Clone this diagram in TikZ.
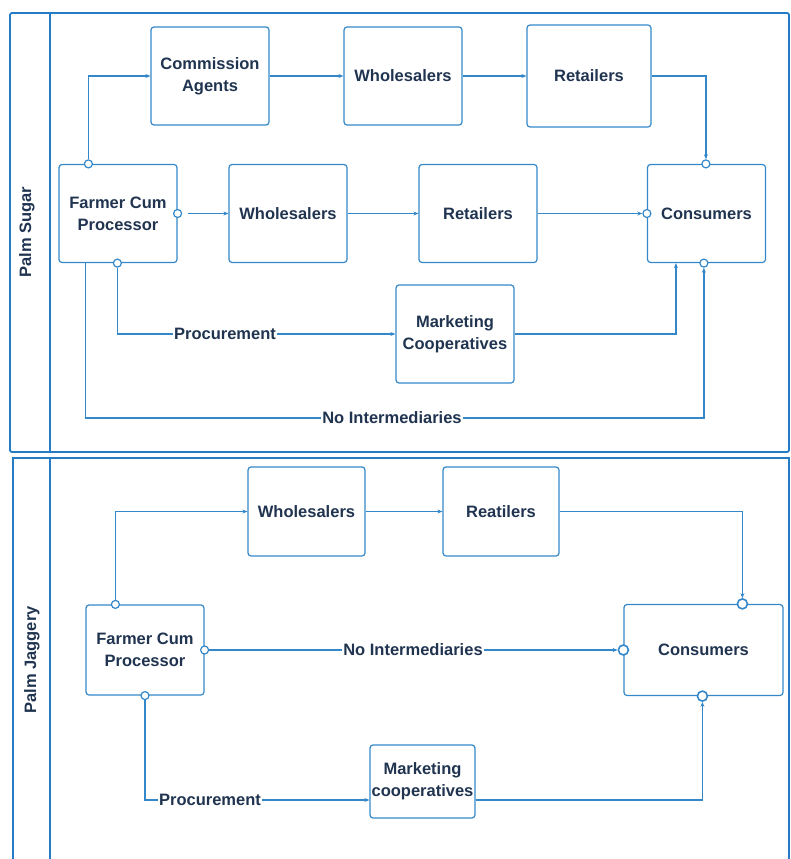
\documentclass[tikz,border=0pt]{standalone}
\usepackage{fontspec}
\setmainfont{Liberation Sans}
\usetikzlibrary{arrows.meta,positioning,calc}
\definecolor{lineblue}{RGB}{52,136,202}
\definecolor{frameblue}{RGB}{38,124,196}
\definecolor{textnavy}{RGB}{32,52,80}

\begin{document}
\begin{tikzpicture}[x=1pt, y=-1pt,
    font=\bfseries\fontsize{16.5}{22}\selectfont, text=textnavy,
    box/.style={draw=lineblue, line width=1.2pt, rounded corners=3pt, align=center,
      minimum width=118pt, minimum height=98pt, inner sep=2pt},
    flow/.style={draw=lineblue, line width=1.2pt, -{Stealth[length=5pt,width=4pt]}},
    link/.style={draw=lineblue, line width=1.2pt},
    port/.style={circle, draw=lineblue, line width=1.2pt, fill=white, inner sep=0pt, minimum size=8pt},
    bigport/.style={port, line width=1.6pt, minimum size=10pt},
    tag/.style={fill=white, inner sep=1pt},
    lane/.style={rotate=90},
    frame/.style={draw=frameblue, line width=1.8pt}]
    \useasboundingbox (0,0) rectangle (790,859);

    % Swimlane frames
    \draw[frame, rounded corners=2pt] (10,13) rectangle (789,452);
    \draw[frame] (50,13) -- (50,452);
    \draw[frame] (13,860) -- (13,458) -- (789,458) -- (789,860);
    \draw[frame] (50,458) -- (50,860);
    \node[lane] (sugar) at (27,232) {Palm Sugar};
    \node[lane] (jaggery) at (32,660) {Palm Jaggery};

    % Palm sugar boxes
    \node[box] (agents) at (210,76) {Commission\\Agents};
    \node[box] (whole1) at (403,76) {Wholesalers};
    \node[box, minimum width=124pt, minimum height=102pt] (retail1) at (589,76) {Retailers};
    \node[box] (farmer1) at (118,213.5) {Farmer Cum\\Processor};
    \node[box] (whole2) at (288,213.5) {Wholesalers};
    \node[box] (retail2) at (478,213.5) {Retailers};
    \node[box] (cons1) at (706.5,213.5) {Consumers};
    \node[box] (coop1) at (455,334) {Marketing\\Cooperatives};

    % Palm sugar ports and labels
    \node[port] (f1top) at ($(farmer1.north west)+(30,0)$) {};
    \node[port] (f1east) at (farmer1.east) {};
    \node[port] (f1bot) at ($(farmer1.south west)+(59,0)$) {};
    \coordinate (f1out) at ($(farmer1.south west)+(27,0)$);
    \node[port] (c1top) at ($(cons1.north west)+(59,0)$) {};
    \node[port] (c1west) at (cons1.west) {};
    \node[port] (c1bot) at ($(cons1.south west)+(57,0)$) {};
    \coordinate (c1low) at ($(cons1.south west)+(29,0)$);
    \node[tag] (proc1) at (225,334) {Procurement};
    \node[tag] (none1) at (392,418) {No Intermediaries};

    % Palm sugar connectors
    \draw[flow] (f1top) |- (agents);
    \draw[flow] (agents) -- (whole1);
    \draw[flow] (whole1) -- (retail1);
    \draw[flow] (retail1) -| (c1top);
    \draw[flow, shorten <=6pt] (f1east) -- (whole2);
    \draw[flow] (whole2) -- (retail2);
    \draw[flow] (retail2) -- (c1west);
    \draw[link] (f1bot) |- (proc1);
    \draw[flow] (proc1) -- (coop1);
    \draw[flow] (coop1) -| (c1low);
    \draw[link] (f1out) |- (none1);
    \draw[flow] (none1) -| (c1bot);

    % Palm jaggery boxes
    \node[box, minimum width=117pt, minimum height=89pt] (whole3) at (306.5,511.5) {Wholesalers};
    \node[box, minimum width=116pt, minimum height=89pt] (retail3) at (501,511.5) {Reatilers};
    \node[box, minimum height=90pt] (farmer2) at (145,650) {Farmer Cum\\Processor};
    \node[box, minimum width=159pt, minimum height=91pt] (cons2) at (703.5,650) {Consumers};
    \node[box, minimum width=105pt, minimum height=73pt, inner sep=1pt] (coop2) at (422.5,781.5) {Marketing\\cooperatives};

    % Palm jaggery ports and labels
    \node[port] (f2top) at ($(farmer2.north west)+(30,0)$) {};
    \node[port] (f2east) at (farmer2.east) {};
    \node[port] (f2bot) at (farmer2.south) {};
    \node[bigport] (c2top) at ($(cons2.north west)+(119,0)$) {};
    \node[bigport] (c2west) at (cons2.west) {};
    \node[bigport] (c2bot) at ($(cons2.south west)+(79,0)$) {};
    \node[tag] (proc2) at (210,800) {Procurement};
    \node[tag] (none2) at (413,650) {No Intermediaries};

    % Palm jaggery connectors
    \draw[flow] (f2top) |- (whole3);
    \draw[flow] (whole3) -- (retail3);
    \draw[flow] (retail3) -| (c2top);
    \draw[link] (f2east) -- (none2);
    \draw[flow] (none2) -- (c2west);
    \draw[link] (f2bot) |- (proc2);
    \draw[flow] (proc2) -- (proc2 -| coop2.west);
    \draw[flow] (proc2 -| coop2.east) -| (c2bot);
\end{tikzpicture}
\end{document}
